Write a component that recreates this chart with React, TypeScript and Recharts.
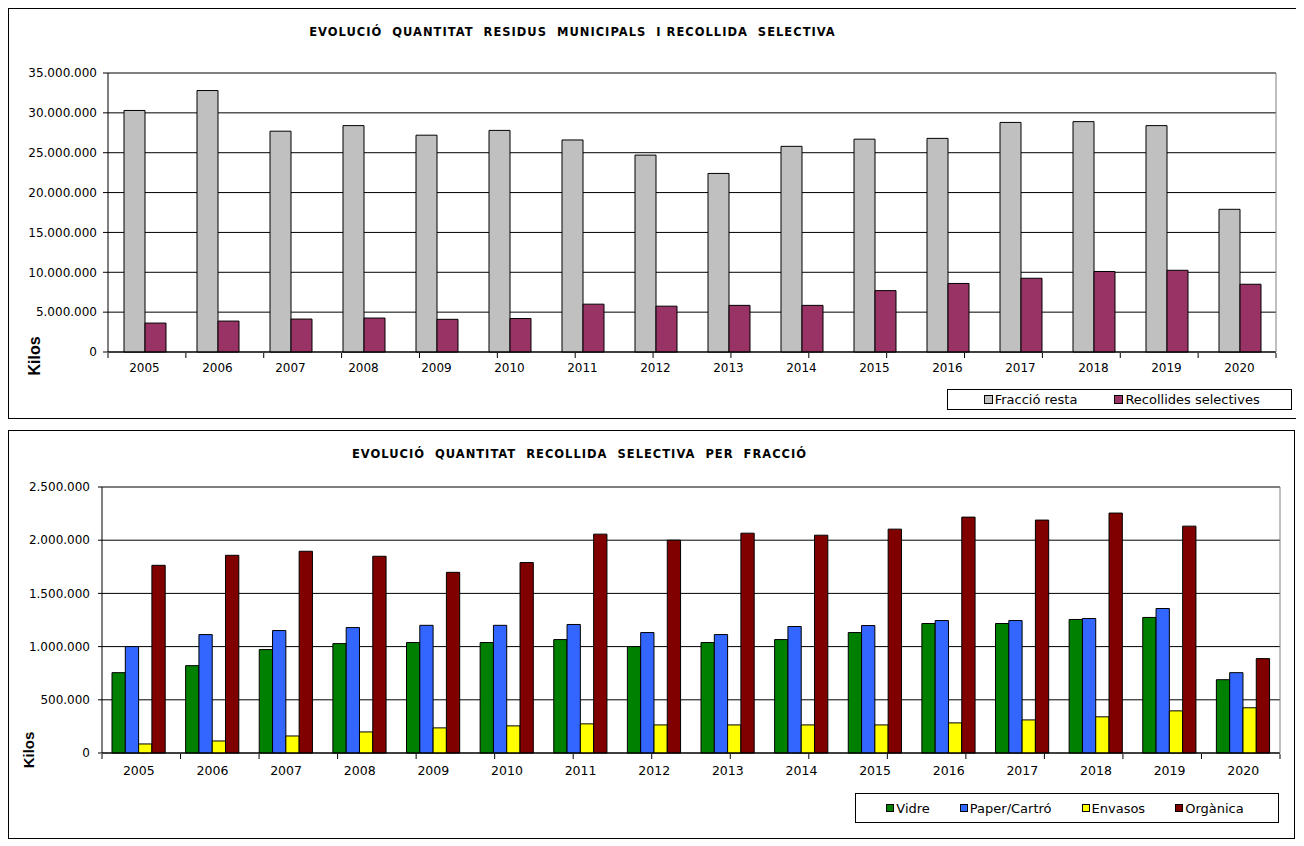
import { BarChart, Bar, XAxis, YAxis, CartesianGrid } from "recharts";

const years = [
  "2005", "2006", "2007", "2008", "2009", "2010", "2011", "2012",
  "2013", "2014", "2015", "2016", "2017", "2018", "2019", "2020",
];

// top chart (kilos)
const fraccioResta = [
  30300000, 32800000, 27700000, 28400000, 27200000, 27800000, 26600000, 24700000,
  22400000, 25800000, 26700000, 26800000, 28800000, 28900000, 28400000, 17900000,
];
const recollidesSelectives = [
  3630000, 3880000, 4130000, 4260000, 4100000, 4200000, 6000000, 5750000,
  5850000, 5850000, 7700000, 8600000, 9250000, 10100000, 10250000, 8500000,
];
const topTicks = [0, 5000000, 10000000, 15000000, 20000000, 25000000, 30000000, 35000000];

// bottom chart (kilos per fraction)
const vidre = [
  755000, 821000, 972000, 1028000, 1038000, 1038000, 1066000, 1000000,
  1038000, 1066000, 1132000, 1217000, 1217000, 1255000, 1274000, 689000,
];
const paperCarto = [
  1000000, 1113000, 1151000, 1179000, 1200000, 1200000, 1208000, 1132000,
  1113000, 1189000, 1198000, 1245000, 1245000, 1264000, 1358000, 755000,
];
const envasos = [
  85000, 113000, 160000, 198000, 236000, 255000, 274000, 264000,
  264000, 264000, 264000, 283000, 311000, 340000, 396000, 425000,
];
const organica = [
  1764000, 1858000, 1896000, 1849000, 1698000, 1790000, 2057000, 2000000,
  2066000, 2047000, 2104000, 2217000, 2189000, 2255000, 2132000, 887000,
];
const bottomTicks = [0, 500000, 1000000, 1500000, 2000000, 2500000];

const topSeries = [
  { key: "resta", name: "Fracció resta", color: "#C0C0C0" },
  { key: "selectives", name: "Recollides selectives", color: "#993366" },
];
const bottomSeries = [
  { key: "vidre", name: "Vidre", color: "#008000" },
  { key: "paper", name: "Paper/Cartró", color: "#3366FF" },
  { key: "envasos", name: "Envasos", color: "#FFFF00" },
  { key: "organica", name: "Orgànica", color: "#800000" },
];

const topData = years.map((year, i) => ({
  year,
  resta: fraccioResta[i],
  selectives: recollidesSelectives[i],
}));
const bottomData = years.map((year, i) => ({
  year,
  vidre: vidre[i],
  paper: paperCarto[i],
  envasos: envasos[i],
  organica: organica[i],
}));

// boundary ticks between categories, like the spreadsheet original
const edgeTicks = years.map((_, i) => i).concat(years.length);

const FONT = "'DejaVu Sans', Verdana, sans-serif";

function formatKilos(v: number): string {
  return String(v).replace(/\B(?=(\d{3})+(?!\d))/g, ".");
}

function Title({ text, x, y }: { text: string; x: number; y: number }) {
  return (
    <div
      style={{
        position: "absolute",
        left: x,
        top: y,
        transform: "translate(-50%, -50%)",
        whiteSpace: "pre",
        fontFamily: FONT,
        fontWeight: "bold",
        fontSize: 11.5,
        letterSpacing: 1,
        color: "#000",
      }}
    >
      {text}
    </div>
  );
}

function Kilos({ x, y, size }: { x: number; y: number; size: number }) {
  return (
    <div
      style={{
        position: "absolute",
        left: x,
        top: y,
        transform: "translate(-50%, -50%) rotate(-90deg)",
        fontFamily: "'Liberation Sans', Arial, sans-serif",
        fontWeight: "bold",
        fontSize: size,
        color: "#000",
      }}
    >
      Kilos
    </div>
  );
}

function LegendBox({
  items,
  left,
  top,
  width,
  height,
  padLeft,
  gap,
  swatch,
  fontSize,
}: {
  items: { name: string; color: string }[];
  left: number;
  top: number;
  width: number;
  height: number;
  padLeft: number;
  gap: number;
  swatch: number;
  fontSize: number;
}) {
  return (
    <div
      style={{
        position: "absolute",
        left,
        top,
        width,
        height,
        boxSizing: "border-box",
        border: "1px solid #000",
        background: "#fff",
        display: "flex",
        alignItems: "center",
        paddingLeft: padLeft,
        gap,
        fontFamily: FONT,
        fontSize,
        color: "#000",
      }}
    >
      {items.map((it) => (
        <div key={it.name} style={{ display: "flex", alignItems: "center", gap: 2 }}>
          <span
            style={{
              display: "inline-block",
              width: swatch,
              height: swatch,
              boxSizing: "border-box",
              border: "1px solid #000",
              background: it.color,
            }}
          />
          <span>{it.name}</span>
        </div>
      ))}
    </div>
  );
}

export default function App() {
  const tickTop = { fontFamily: FONT, fontSize: 12, fill: "#000" };
  const tickBottomY = { fontFamily: FONT, fontSize: 12, fill: "#000" };
  const tickBottomX = { fontFamily: FONT, fontSize: 12.5, fill: "#000" };

  return (
    <div style={{ position: "relative", width: 1289, height: 831 }}>
      {/* Residus municipals vs recollida selectiva */}
      <div
        style={{
          position: "absolute",
          left: 0,
          top: 0,
          width: 1289,
          height: 411,
          boxSizing: "border-box",
          border: "1px solid #000",
          background: "#fff",
        }}
      >
        <BarChart
          width={1287}
          height={409}
          data={topData}
          margin={{ top: 63, right: 19, left: 0, bottom: 64 }}
          barSize={21}
          barGap={0}
        >
          <CartesianGrid vertical={false} stroke="#000" />
          <XAxis
            xAxisId="edges"
            type="number"
            domain={[0, years.length]}
            ticks={edgeTicks}
            allowDataOverflow
            height={1}
            axisLine={false}
            tickSize={5}
            tickLine={{ stroke: "#000" }}
            tickFormatter={() => ""}
          />
          <XAxis
            dataKey="year"
            height={1}
            axisLine={{ stroke: "#000" }}
            tickLine={false}
            tickSize={6}
            tickMargin={5}
            tick={tickTop}
            interval={0}
          />
          <XAxis
            xAxisId="top"
            dataKey="year"
            orientation="top"
            height={1}
            axisLine={{ stroke: "#808080" }}
            tickLine={false}
            tickFormatter={() => ""}
          />
          <YAxis
            width={99}
            domain={[0, 35000000]}
            ticks={topTicks}
            tickFormatter={formatKilos}
            axisLine={{ stroke: "#000" }}
            tickLine={{ stroke: "#000" }}
            tickSize={5}
            tickMargin={6}
            tick={tickTop}
            interval={0}
          />
          <YAxis
            yAxisId="right"
            orientation="right"
            width={1}
            domain={[0, 35000000]}
            axisLine={{ stroke: "#808080" }}
            tickLine={false}
            tickFormatter={() => ""}
          />
          {topSeries.map((s) => (
            <Bar
              key={s.key}
              dataKey={s.key}
              name={s.name}
              fill={s.color}
              stroke="#000"
              strokeWidth={1}
              isAnimationActive={false}
            />
          ))}
        </BarChart>
        <Title
          text="EVOLUCIÓ  QUANTITAT  RESIDUS  MUNICIPALS  I RECOLLIDA  SELECTIVA"
          x={563.5}
          y={23}
        />
        <Kilos x={26} y={347} size={16} />
        <LegendBox
          items={topSeries}
          left={937.7}
          top={380.3}
          width={345}
          height={21}
          padLeft={36}
          gap={37}
          swatch={9}
          fontSize={13}
        />
      </div>

      {/* Recollida selectiva per fracció */}
      <div
        style={{
          position: "absolute",
          left: 0,
          top: 422,
          width: 1287,
          height: 409,
          boxSizing: "border-box",
          border: "1px solid #000",
          background: "#fff",
        }}
      >
        <BarChart
          width={1285}
          height={407}
          data={bottomData}
          margin={{ top: 55, right: 13, left: 0, bottom: 83 }}
          barSize={13.3}
          barGap={0}
        >
          <CartesianGrid vertical={false} stroke="#000" />
          <XAxis
            xAxisId="edges"
            type="number"
            domain={[0, years.length]}
            ticks={edgeTicks}
            allowDataOverflow
            height={1}
            axisLine={false}
            tickSize={5}
            tickLine={{ stroke: "#000" }}
            tickFormatter={() => ""}
          />
          <XAxis
            dataKey="year"
            height={1}
            axisLine={{ stroke: "#000" }}
            tickLine={false}
            tickSize={6}
            tickMargin={7}
            tick={tickBottomX}
            interval={0}
          />
          <XAxis
            xAxisId="top"
            dataKey="year"
            orientation="top"
            height={1}
            axisLine={{ stroke: "#808080" }}
            tickLine={false}
            tickFormatter={() => ""}
          />
          <YAxis
            width={93}
            domain={[0, 2500000]}
            ticks={bottomTicks}
            tickFormatter={formatKilos}
            axisLine={{ stroke: "#000" }}
            tickLine={{ stroke: "#000" }}
            tickSize={4}
            tickMargin={8}
            tick={tickBottomY}
            interval={0}
          />
          <YAxis
            yAxisId="right"
            orientation="right"
            width={1}
            domain={[0, 2500000]}
            axisLine={{ stroke: "#808080" }}
            tickLine={false}
            tickFormatter={() => ""}
          />
          {bottomSeries.map((s) => (
            <Bar
              key={s.key}
              dataKey={s.key}
              name={s.name}
              fill={s.color}
              stroke="#000"
              strokeWidth={1}
              isAnimationActive={false}
            />
          ))}
        </BarChart>
        <Title
          text="EVOLUCIÓ  QUANTITAT  RECOLLIDA  SELECTIVA  PER  FRACCIÓ"
          x={570.5}
          y={23}
        />
        <Kilos x={19} y={319} size={15} />
        <LegendBox
          items={bottomSeries}
          left={846.3}
          top={362.3}
          width={423.4}
          height={30}
          padLeft={30}
          gap={30}
          swatch={8}
          fontSize={13}
        />
      </div>
    </div>
  );
}
